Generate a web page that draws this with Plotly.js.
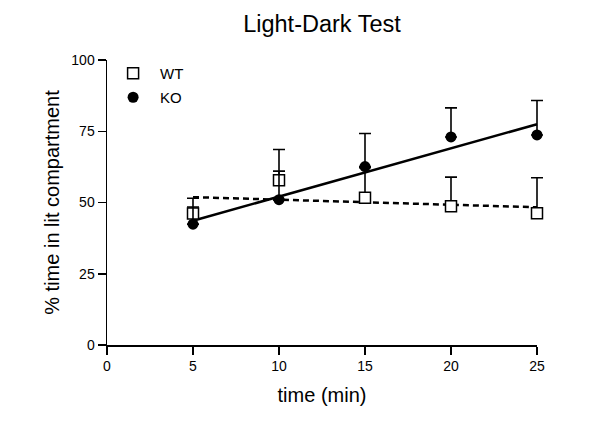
<!DOCTYPE html>
<html>
<head>
<meta charset="utf-8">
<script src="https://cdn.plot.ly/plotly-3.0.1.min.js"></script>
<style>html,body{margin:0;padding:0;background:#fff;}#chart{width:600px;height:440px;}</style>
</head>
<body>
<div id="chart"></div>
<script>
var times = [5, 10, 15, 20, 25];
var wtMean = [46.1, 57.8, 51.7, 48.7, 46.2];
var wtErr = [5.4, 10.8, 10.5, 10.2, 12.5];
var koMean = [42.4, 51.0, 62.6, 73.0, 73.7];
var koErr = [6.0, 10.0, 11.6, 10.2, 12.1];
var xTicks = [0, 5, 10, 15, 20, 25];
var yTicks = [0, 25, 50, 75, 100];

function linfit(x, y) {
  var n = x.length, mx = 0, my = 0;
  for (var i = 0; i < n; i++) { mx += x[i]; my += y[i]; }
  mx /= n; my /= n;
  var sxy = 0, sxx = 0;
  for (var j = 0; j < n; j++) { sxy += (x[j]-mx)*(y[j]-my); sxx += (x[j]-mx)*(x[j]-mx); }
  var b = sxy / sxx, a = my - b*mx;
  var xs = [x[0], x[n-1]];
  return {x: xs, y: xs.map(function(v){ return a + b*v; })};
}
var wtFit = linfit(times, wtMean);
var koFit = linfit(times, koMean);
var zeros = times.map(function(){ return 0; });
var FONT = 'Liberation Sans, Arial, Helvetica, sans-serif';

// geometry: visible axis spans 0..25; data layer gets a slightly wider clip area at the right
var ML = 107, MR = 40, W = 600;
var plotW = W - ML - MR;
var axisFrac = 430 / plotW;
var x2Max = 25 / axisFrac;

var traces = [
  // empty trace so the visible axis subplot is created
  {x: [], y: [], xaxis: 'x', yaxis: 'y', mode: 'markers', showlegend: false, hoverinfo: 'skip'},
  {x: wtFit.x, y: wtFit.y, xaxis: 'x2', yaxis: 'y', mode: 'lines', showlegend: false, hoverinfo: 'skip',
   line: {color: '#000', width: 2.5, dash: '6px,4px'}, cliponaxis: false},
  {x: koFit.x, y: koFit.y, xaxis: 'x2', yaxis: 'y', mode: 'lines', showlegend: false, hoverinfo: 'skip',
   line: {color: '#000', width: 2.5}, cliponaxis: false},
  {x: times, y: wtMean, xaxis: 'x2', yaxis: 'y', name: 'WT', mode: 'markers', type: 'scatter', cliponaxis: false,
   legendgroup: 'wt',
   marker: {symbol: 'square', size: 11, color: '#fff', line: {color: '#000', width: 1.5}},
   error_y: {type: 'data', array: wtErr, arrayminus: zeros, symmetric: false, color: '#000', thickness: 1.6, width: 6}},
  {x: times, y: koMean, xaxis: 'x2', yaxis: 'y', name: 'KO', mode: 'markers', type: 'scatter', cliponaxis: false,
   legendgroup: 'ko',
   marker: {symbol: 'circle', size: 11, color: '#000', line: {color: '#000', width: 0}},
   error_y: {type: 'data', array: koErr, arrayminus: zeros, symmetric: false, color: '#000', thickness: 1.6, width: 6}}
];

var layout = {
  width: 600, height: 440,
  margin: {l: ML, r: MR, t: 60, b: 95},
  paper_bgcolor: '#fff', plot_bgcolor: 'rgba(0,0,0,0)',
  font: {family: FONT, color: '#000'},
  title: {text: 'Light-Dark Test', font: {size: 23.5, family: FONT, color: '#000'},
          x: 322 / 600, xref: 'container', xanchor: 'center', y: 0.945, yref: 'container', yanchor: 'middle'},
  showlegend: true,
  legend: {x: -0.002, y: 1.0105, xanchor: 'left', yanchor: 'top', traceorder: 'grouped', tracegroupgap: 1.5,
           itemwidth: 44,
           font: {size: 15, family: FONT, color: '#000'}, bgcolor: 'rgba(0,0,0,0)'},
  xaxis: {domain: [0, axisFrac], anchor: 'y', range: [0, 25], tickvals: xTicks, ticktext: xTicks.map(String),
          showgrid: false, zeroline: false, showline: true, linecolor: '#000', linewidth: 1.5,
          ticks: 'outside', ticklen: 8, tickwidth: 1.5, tickcolor: '#000',
          tickfont: {size: 14, family: FONT, color: '#000'},
          title: {text: 'time (min)', font: {size: 20, family: FONT, color: '#000'}, standoff: 14}},
  xaxis2: {domain: [0, 1], anchor: 'y', range: [0, x2Max], visible: false, showgrid: false, zeroline: false},
  yaxis: {anchor: 'x', range: [0, 100], tickvals: yTicks, ticktext: yTicks.map(String),
          showgrid: false, zeroline: false, showline: true, linecolor: '#000', linewidth: 1.5,
          ticks: 'outside', ticklen: 8, tickwidth: 1.5, tickcolor: '#000',
          tickfont: {size: 14, family: FONT, color: '#000'},
          title: {text: '% time in lit compartment', font: {size: 20, family: FONT, color: '#000'}, standoff: 6}}
};

Plotly.newPlot('chart', traces, layout, {staticPlot: true, displayModeBar: false});
</script>
</body>
</html>
